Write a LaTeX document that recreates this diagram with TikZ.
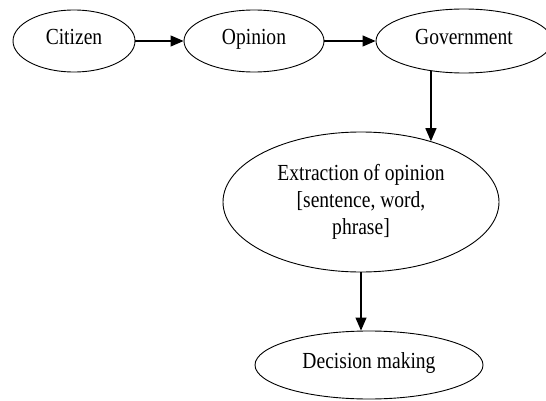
\documentclass[tikz,border=0pt]{standalone}
\usepackage{fontspec}
\setmainfont[FakeStretch=0.85]{Liberation Serif}
\usetikzlibrary{shapes.geometric,arrows.meta}
\tikzset{
  oval/.style={ellipse, draw=black, line width=0.9pt, inner sep=0pt, font=\fontsize{23}{27}\selectfont, align=center},
  one/.style={text height=0.66em, text depth=0pt},
  arr/.style={line width=1.2pt, -{Triangle[length=13pt,width=11pt]}}
}
\begin{document}
\begin{tikzpicture}[x=1pt,y=-1pt]
\useasboundingbox (0,0) rectangle (546,401);
\clip (0,0) rectangle (546,401);
\fill[white] (0,0) rectangle (546,401);
\node[oval, one, minimum width=122pt, minimum height=62pt] (cit) at (74,41) {Citizen};
\node[oval, one, minimum width=140pt, minimum height=62pt] (opi) at (254,41) {Opinion};
\node[oval, one, minimum width=176pt, minimum height=64pt] (gov) at (464,41) {Government};
\node[oval, minimum width=276pt, minimum height=140pt] (ext) at (361,202) {Extraction of opinion\\ {}[sentence, word,\\ phrase]};
\node[oval, one, minimum width=228pt, minimum height=68pt] (dec) at (369,365) {Decision making};
\draw[arr] (cit) -- (opi);
\draw[arr] (opi) -- (gov);
\draw[arr] (ext.41.3 |- gov.221) -- (ext.41.3);
\draw[arr] (ext.south) -- (ext.south |- dec.north);
\end{tikzpicture}
\end{document}
